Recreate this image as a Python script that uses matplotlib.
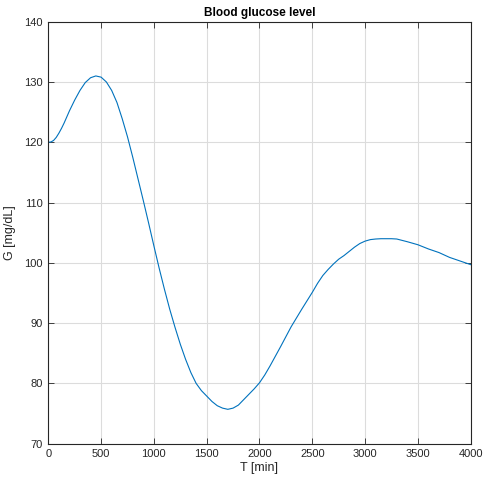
import matplotlib
matplotlib.use("Agg")
import matplotlib.pyplot as plt

# Valores
tiempo = [0, 25, 50, 75, 100, 125, 150, 175, 200, 250, 300, 350, 400, 450,
          500, 550, 600, 650, 700, 750, 800, 850, 900, 950, 1000, 1050, 1100,
          1150, 1200, 1250, 1300, 1350, 1400, 1450, 1500, 1550, 1600, 1650,
          1700, 1750, 1800, 1850, 1900, 1950, 2000, 2050, 2100, 2150, 2200,
          2300, 2400, 2500, 2550, 2600, 2650, 2700, 2750, 2800, 2850, 2900,
          2950, 3000, 3050, 3100, 3150, 3200, 3250, 3300, 3400, 3500, 3600,
          3700, 3800, 3900, 4000]
glucosa = [120.0, 120.05, 120.3, 120.8, 121.5, 122.3, 123.2, 124.2, 125.2, 127.0,
           128.6, 129.9, 130.7, 131.0, 130.8, 130.0, 128.6, 126.6, 123.9, 120.9,
           117.5, 113.9, 110.3, 106.6, 102.8, 99.1, 95.6, 92.3, 89.3, 86.5,
           84.0, 81.8, 80.0, 78.8, 77.9, 77.0, 76.3, 75.9, 75.7, 75.9,
           76.4, 77.3, 78.2, 79.1, 80.1, 81.4, 82.9, 84.5, 86.1, 89.4,
           92.3, 95.1, 96.6, 97.9, 98.9, 99.8, 100.6, 101.2, 101.9, 102.6,
           103.2, 103.6, 103.85, 103.95, 104.0, 104.0, 104.0, 103.95, 103.5, 103.0,
           102.3, 101.7, 100.9, 100.3, 99.7]

x_ticks = [0, 500, 1000, 1500, 2000, 2500, 3000, 3500, 4000]
y_ticks = [70, 80, 90, 100, 110, 120, 130, 140]

plt.rcParams['font.family'] = ['Liberation Sans', 'DejaVu Sans']

fig = plt.figure(figsize=(4.83, 4.84), dpi=100)
ax = fig.add_axes([0.100, 0.0833, 0.8745, 0.8719])

ax.plot(tiempo, glucosa, color='#0072BD', linewidth=0.8)

ax.set_xlim(0, 4000)
ax.set_ylim(70, 140)
ax.set_xticks(x_ticks)
ax.set_yticks(y_ticks)
ax.grid(True, color='#dcdcdc', linewidth=0.8)
ax.set_axisbelow(True)

ax.tick_params(direction='in', length=4, width=0.6, top=True, right=True,
               labelsize=8, colors='#262626', pad=4)
for s in ax.spines.values():
    s.set_color('#262626')
    s.set_linewidth(0.8)

ax.set_title('Blood glucose level', fontsize=8.5, fontweight='bold', pad=4)
ax.set_xlabel('T [min]', fontsize=9, color='#262626', labelpad=2)
ax.set_ylabel('G [mg/dL]', fontsize=9, color='#262626', labelpad=6)

fig.savefig('out.png', dpi=100)
